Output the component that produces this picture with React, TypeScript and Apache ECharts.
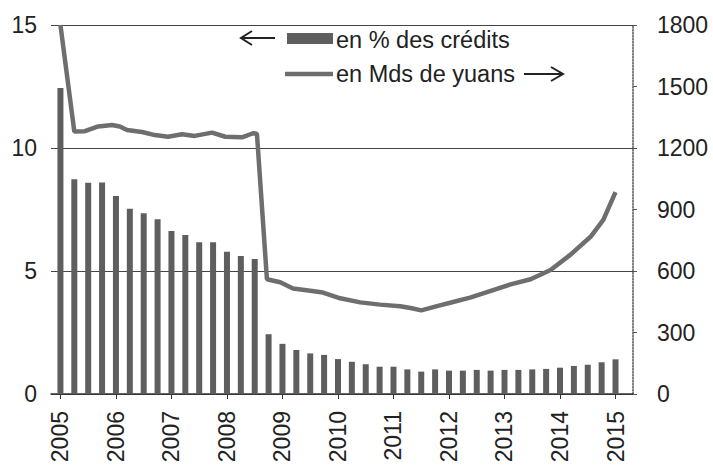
import React, { useEffect, useRef } from "react";
import * as echarts from "echarts";

const yearTicks = [2005, 2006, 2007, 2008, 2009, 2010, 2011, 2012, 2013, 2014, 2015];

// quarterly share of credits (%), 2005Q1 .. 2015Q1
const barQuarters = [
  2005.0, 2005.25, 2005.5, 2005.75,
  2006.0, 2006.25, 2006.5, 2006.75,
  2007.0, 2007.25, 2007.5, 2007.75,
  2008.0, 2008.25, 2008.5, 2008.75,
  2009.0, 2009.25, 2009.5, 2009.75,
  2010.0, 2010.25, 2010.5, 2010.75,
  2011.0, 2011.25, 2011.5, 2011.75,
  2012.0, 2012.25, 2012.5, 2012.75,
  2013.0, 2013.25, 2013.5, 2013.75,
  2014.0, 2014.25, 2014.5, 2014.75,
  2015.0,
];
const barValues = [
  12.44, 8.73, 8.59, 8.6,
  8.05, 7.53, 7.35, 7.1,
  6.63, 6.46, 6.17, 6.17,
  5.78, 5.61, 5.49, 2.43,
  2.04, 1.79, 1.65, 1.59,
  1.42, 1.31, 1.21, 1.11,
  1.11, 1.0, 0.91, 1.0,
  0.95, 0.95, 0.98, 0.95,
  0.98, 0.98, 1.0, 1.02,
  1.07, 1.14, 1.19, 1.29,
  1.41,
];

// amount in billions of yuan
const lineYears = [
  2005.0, 2005.25, 2005.44, 2005.68, 2005.93, 2006.07, 2006.2, 2006.47, 2006.7,
  2006.94, 2007.19, 2007.42, 2007.73, 2007.97, 2008.27, 2008.47, 2008.54,
  2008.72, 2008.96, 2009.19, 2009.5, 2009.73, 2010.04, 2010.4, 2010.76,
  2011.12, 2011.33, 2011.5, 2011.8, 2012.02, 2012.38, 2012.74, 2013.11,
  2013.47, 2013.83, 2014.19, 2014.55, 2014.78, 2015.0,
];
const lineValues = [
  1800, 1280, 1282, 1305, 1312, 1305, 1288, 1278, 1263,
  1255, 1267, 1259, 1275, 1255, 1252, 1272, 1270,
  560, 545, 515, 504, 495, 467, 447, 436,
  428, 418, 408, 430, 445, 470, 502, 535,
  560, 605, 680, 767, 849, 985,
];

const FONT = "Liberation Sans, Arial, Helvetica, sans-serif";
const TXT = "#222";
const AX_FS = 23;
const LEG_FS = 23.5;

export default function App() {
  const ref = useRef<HTMLDivElement>(null);
  useEffect(() => {
    if (!ref.current) return;
    const chart = echarts.init(ref.current, undefined, { renderer: "svg" });
    const barData = barQuarters.map((q, i) => [q, barValues[i]]);
    const lineData = lineYears.map((y, i) => [y, lineValues[i]]);
    chart.setOption({
      animation: false,
      backgroundColor: "#fff",
      textStyle: { fontFamily: FONT },
      grid: { left: 51, right: 80, top: 25, bottom: 74, containLabel: false },
      xAxis: {
        type: "value",
        min: 2004.83,
        max: 2015.315,
        axisLine: { show: true, lineStyle: { color: "#333", width: 1.5 } },
        axisTick: { show: true, customValues: yearTicks, length: 5, lineStyle: { color: "#333" } },
        axisLabel: {
          customValues: yearTicks,
          rotate: 90,
          fontSize: AX_FS,
          margin: 17,
          color: TXT,
          fontFamily: FONT,
          formatter: (v: number) => String(Math.round(v)),
        },
        splitLine: { show: false },
      },
      yAxis: [
        {
          type: "value",
          position: "left",
          min: 0,
          max: 15,
          interval: 5,
          axisLine: { show: false },
          axisTick: { show: false },
          axisLabel: { fontSize: AX_FS, margin: 14, color: TXT, fontFamily: FONT },
          splitLine: { show: true, lineStyle: { color: "#444", width: 1 } },
        },
        {
          type: "value",
          position: "right",
          min: 0,
          max: 1800,
          interval: 300,
          axisLine: { show: true, lineStyle: { color: "#555", width: 1.5, type: "dotted" } },
          axisTick: { show: true, length: 4, lineStyle: { color: "#555" } },
          axisLabel: {
            fontSize: AX_FS,
            margin: 24,
            color: TXT,
            fontFamily: FONT,
            formatter: (v: number) => String(v),
          },
          splitLine: { show: false },
        },
      ],
      series: [
        {
          name: "en % des crédits",
          type: "bar",
          yAxisIndex: 0,
          barWidth: 6,
          data: barData,
          itemStyle: { color: "#5e5e5e" },
          z: 2,
        },
        {
          name: "en Mds de yuans",
          type: "line",
          yAxisIndex: 1,
          data: lineData,
          symbol: "none",
          lineStyle: { color: "#6e6e6e", width: 4.5 },
          z: 3,
        },
      ],
      graphic: [
        // arrow left
        { type: "line", shape: { x1: 241, y1: 38, x2: 275, y2: 38 }, style: { stroke: "#222", lineWidth: 2 } },
        { type: "polyline", shape: { points: [[252, 31], [241, 38], [252, 45]] }, style: { stroke: "#222", lineWidth: 2, fill: null } },
        { type: "rect", shape: { x: 287, y: 33, width: 46, height: 11 }, style: { fill: "#5e5e5e" } },
        {
          type: "text",
          x: 336,
          y: 40,
          style: { text: "en % des crédits", fontSize: LEG_FS, fontFamily: FONT, fill: TXT, verticalAlign: "middle", align: "left" },
        },
        { type: "line", shape: { x1: 285, y1: 74, x2: 333, y2: 74 }, style: { stroke: "#6e6e6e", lineWidth: 4.5 } },
        {
          type: "text",
          x: 336,
          y: 74,
          style: { text: "en Mds de yuans", fontSize: LEG_FS, fontFamily: FONT, fill: TXT, verticalAlign: "middle", align: "left" },
        },
        // arrow right
        { type: "line", shape: { x1: 524, y1: 74, x2: 563, y2: 74 }, style: { stroke: "#222", lineWidth: 2 } },
        { type: "polyline", shape: { points: [[551, 67], [563, 74], [551, 81]] }, style: { stroke: "#222", lineWidth: 2, fill: null } },
      ],
    });
    return () => chart.dispose();
  }, []);
  return <div ref={ref} style={{ width: 713, height: 468, position: "absolute", left: 0, top: 0 }} />;
}
